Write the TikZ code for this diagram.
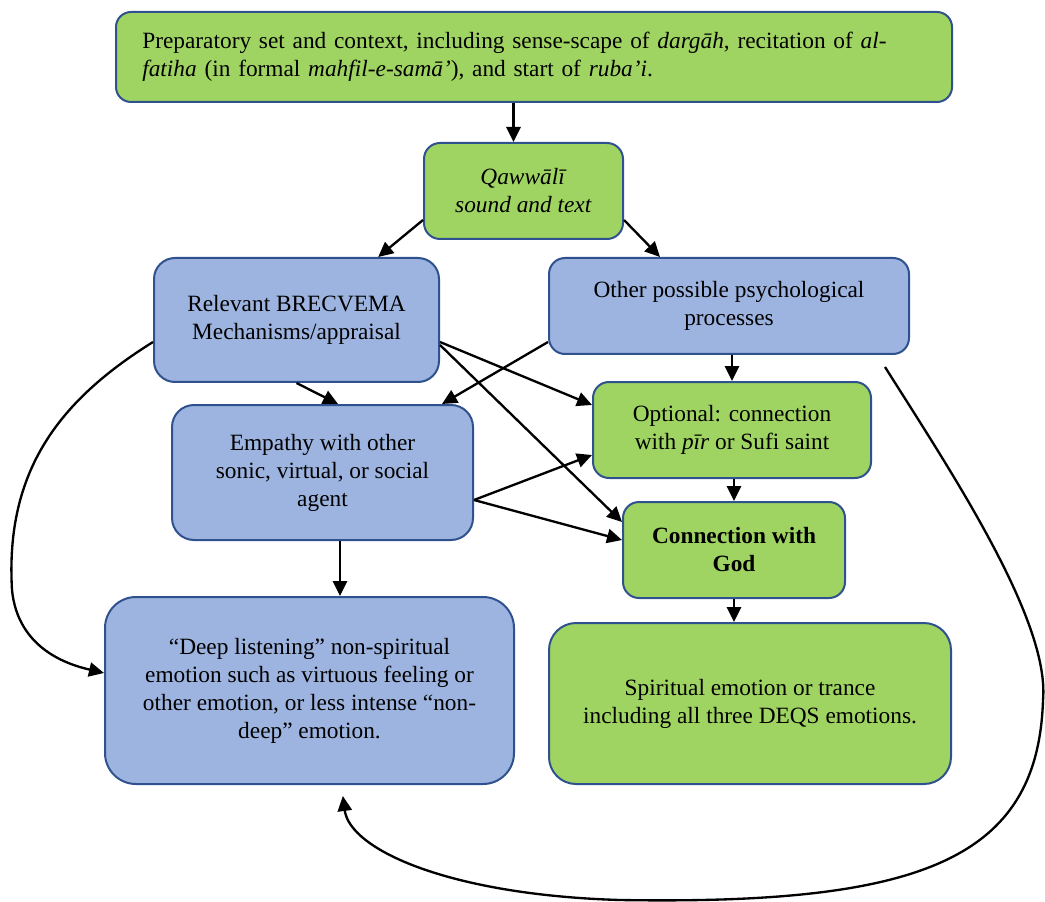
\documentclass[tikz,border=0pt]{standalone}
\usepackage{fontspec}
\setmainfont{Liberation Serif}
\usepackage{tikz}
\usetikzlibrary{arrows.meta,positioning,calc}
\definecolor{leaf}{RGB}{160,212,98}
\definecolor{sky}{RGB}{157,180,224}
\definecolor{rim}{RGB}{47,82,143}
\newcommand{\bodyfont}{\fontsize{14}{16.8}\selectfont}
\tikzset{
  box/.style={draw=rim,line width=1.2pt,align=center,font=\bodyfont,inner sep=0pt},
  greenbox/.style={box,fill=leaf},
  bluebox/.style={box,fill=sky},
  arr/.style={-{Triangle[length=9pt,width=8.5pt]},draw=black,line width=1.4pt},
}
\begin{document}
\begin{tikzpicture}[x=0.6pt,y=-0.6pt]
  \useasboundingbox (0,0) rectangle (1045,902);
  \node[greenbox,minimum width=501.6pt,minimum height=54pt,rounded corners=9pt,text width=470pt,align=left] (top) at (534,57)
    {Preparatory set and context, including sense-scape of \textit{dargāh}, recitation of \textit{al-}\\\textit{fatiha} (in formal \textit{mahfil-e-samā’}), and start of \textit{ruba’i}.};
  \node[greenbox,minimum width=119.4pt,minimum height=57.6pt,rounded corners=9.6pt] (qaw) at (523.5,191) {\textit{Qawwālī}\\\textit{sound and text}};
  \node[bluebox,minimum width=171pt,minimum height=74.4pt,rounded corners=12.6pt] (brec) at (296.5,320) {Relevant BRECVEMA\\Mechanisms/appraisal};
  \node[bluebox,minimum width=216pt,minimum height=57.6pt,rounded corners=9.6pt] (other) at (729,306) {Other possible psychological\\processes};
  \node[bluebox,minimum width=180.6pt,minimum height=81pt,rounded corners=13.2pt] (emp) at (322.5,472.5) {Empathy with other\\sonic, virtual, or social\\agent};
  \node[greenbox,minimum width=166.8pt,minimum height=57.6pt,rounded corners=9.6pt] (opt) at (732,430) {Optional: connection\\with \textit{pīr} or Sufi saint};
  \node[greenbox,minimum width=133.2pt,minimum height=57.6pt,rounded corners=9.6pt] (god) at (734,550) {\textbf{Connection with}\\\textbf{God}};
  \node[bluebox,minimum width=245.4pt,minimum height=112.2pt,rounded corners=18.6pt] (deep) at (309.5,690.5)
    {“Deep listening” non-spiritual\\emotion such as virtuous feeling or\\other emotion, or less intense “non-\\deep” emotion.};
  \node[greenbox,minimum width=241.2pt,minimum height=96.6pt,rounded corners=16.2pt] (spir) at (750,703.5)
    {Spiritual emotion or trance\\including all three DEQS emotions.};
  % straight connectors
  \draw[arr] ([xshift=-6pt]qaw.north |- top.south) -- ([xshift=-6pt]qaw.north);
  \draw[arr] ([yshift=-17.4pt]qaw.west) -- ([xshift=49pt]brec.north);
  \draw[arr] ([yshift=-17.4pt]qaw.east) -- ([xshift=-41.4pt]other.north);
  \draw[arr] (brec.south) -- ([xshift=9.3pt]emp.north);
  \draw[arr] ([yshift=-21.6pt]other.west) -- ([xshift=71.7pt]emp.north);
  \draw[arr] ([yshift=-13.2pt]brec.east) -- ([yshift=15pt]opt.west);
  \draw[arr] ([yshift=-15pt]brec.east) -- ([yshift=16.8pt]god.west);
  \draw[arr] (opt.north |- other.south) -- (opt.north);
  \draw[arr] ([yshift=-16.5pt]emp.east) -- ([yshift=-15pt]opt.west);
  \draw[arr] ([yshift=-16.5pt]emp.east) -- ([yshift=6pt]god.west);
  \draw[arr] (god.north |- opt.south) -- (god.north);
  \draw[arr] ([xshift=10.5pt]emp.south) -- ([xshift=10.5pt]emp.south |- deep.north);
  \draw[arr] (god.south) -- (god.south |- spir.north);
  % feedback curves
  \draw[arr] ([yshift=-13.2pt]brec.west) .. controls (60,400) and (5,470) .. (12,590)
    .. controls (18,650) and (70,665) .. ([yshift=10.5pt]deep.west);
  \draw[arr] ([xshift=-15pt,yshift=-7.2pt]other.south east) .. controls (950,470) and (1050,620) .. (1043,700)
    .. controls (1038,860) and (920,905) .. (620,900)
    .. controls (450,895) and (350,850) .. ([xshift=20pt,yshift=-6.6pt]deep.south);
\end{tikzpicture}
\end{document}
